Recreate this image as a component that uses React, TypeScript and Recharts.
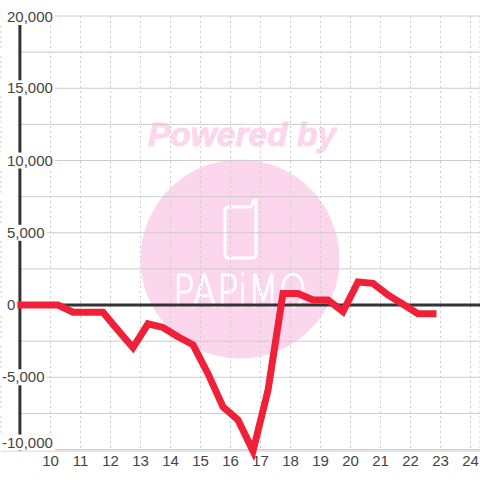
import { ComposedChart, CartesianGrid, XAxis, YAxis, Line, ReferenceLine } from "recharts";

// half hour readings through the day
const hours = [9, 10.25, 10.75, 11.75, 12.25, 12.75, 13.25, 13.75, 14.25, 14.75, 15.25, 15.75, 16.25, 16.75, 17.25, 17.75, 18.25, 18.75, 19.25, 19.75, 20.25, 20.75, 21.25, 21.75, 22.25, 22.75];
const balance = [0, 0, -500, -500, -1750, -2950, -1300, -1550, -2200, -2750, -4750, -7050, -7950, -10100, -5900, 800, 800, 350, 350, -450, 1600, 1500, 700, 50, -600, -600];
const hourTicks = [10, 11, 12, 13, 14, 15, 16, 17, 18, 19, 20, 21, 22, 23, 24];
const valueTicks = [-10000, -7500, -5000, -2500, 0, 2500, 5000, 7500, 10000, 12500, 15000, 17500, 20000];

const data = hours.map((hour, i) => ({ hour, balance: balance[i] }));

const FONT = "'Liberation Sans', Arial, sans-serif";
const TEXT = "#444444";
const PINK = "#fbd6ec";

function ValueTick({ y, payload }: any) {
  const value = payload.value as number;
  // unlabelled grid lines only start at the axis
  if (value % 5000 !== 0) return <rect x={0} y={y - 2} width={18} height={4} fill="#fff" />;
  const label = value.toLocaleString("en-US");
  // rough text width at 15px, so the grid stops just after the label
  let width = 0;
  for (const c of label) width += c === "," ? 4.2 : c === "-" ? 5 : 8.34;
  const left = value < 0 ? 2 : 7;
  const cy = value === 20000 ? y + 1 : value === -10000 ? y - 7 : y;
  return (
    <g>
      <rect x={0} y={cy - 8} width={left + width + 2} height={16} fill="#fff" />
      <text x={left} y={cy + 5} fontSize={15} fontFamily={FONT} fill={TEXT}>
        {label}
      </text>
    </g>
  );
}

export default function App() {
  return (
    <div style={{ position: "absolute", left: 0, top: 0, width: 480, height: 480, background: "#fff" }}>
      <svg width={480} height={480} style={{ position: "absolute", left: 0, top: 0 }}>
        <text x={242} y={146} textAnchor="middle" fontSize={33.5} fontWeight="bold" fontStyle="italic" fontFamily={FONT} fill={PINK} stroke={PINK} strokeWidth={0.8}>
          Powered by
        </text>
        <circle cx={240} cy={259} r={99.5} fill={PINK} />
        <path
          d="M229 207 H249 Q252 207 252.5 204 Q253 200 256 200 V254 Q256 258 252 258 H229 Q225 258 225 254 V211 Q225 207 229 207 Z"
          fill="none"
          stroke="#fff"
          strokeWidth={3}
          strokeLinejoin="round"
        />
        <text x={173} y={307} textLength={134} lengthAdjust="spacingAndGlyphs" fontSize={45} fontWeight={200} fontFamily="'DejaVu Sans', sans-serif" fill="#fff" stroke="#fff" strokeWidth={1}>
          PAPiMO
        </text>
      </svg>
      <div style={{ position: "absolute", left: 0, top: 0 }}>
        <ComposedChart width={480} height={480} data={data} margin={{ top: 16, right: 0, bottom: 0, left: 0 }}>
          <CartesianGrid vertical={false} stroke="#cccccc" strokeWidth={1} />
          <CartesianGrid horizontal={false} stroke="#cccccc" strokeDasharray="2 3" />
          <XAxis
            dataKey="hour"
            type="number"
            domain={[8.35, 24.3167]}
            ticks={hourTicks}
            axisLine={false}
            tickLine={false}
            interval={0}
            tick={{ fontSize: 15, fontFamily: FONT, fill: TEXT }}
            height={29}
            tickMargin={-2}
          />
          <ReferenceLine x={8.98} stroke="#333333" strokeWidth={3} ifOverflow="visible" />
          <ReferenceLine y={0} stroke="#333333" strokeWidth={3} />
          <YAxis
            width={1}
            domain={[-10000, 20000]}
            ticks={valueTicks}
            interval={0}
            axisLine={false}
            tickLine={false}
            tick={<ValueTick />}
          />
          <Line dataKey="balance" stroke="#ef2037" strokeWidth={7} dot={false} isAnimationActive={false} strokeLinejoin="miter" strokeLinecap="square" />
        </ComposedChart>
      </div>
    </div>
  );
}
